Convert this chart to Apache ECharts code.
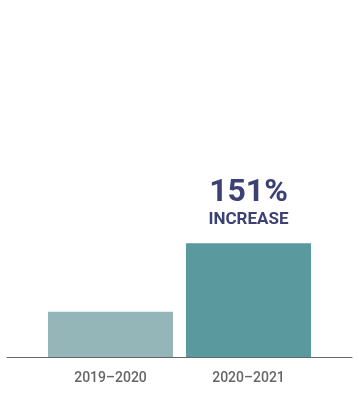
<!DOCTYPE html>
<html>
<head>
<meta charset="utf-8">
<script src="https://cdn.jsdelivr.net/npm/echarts@6/dist/echarts.min.js"></script>
<style>html,body{margin:0;padding:0;background:#fff}#c{width:359px;height:400px}</style>
</head>
<body>
<div id="c"></div>
<script>
const categories = ['2019–2020', '2020–2021'];
const values = [100, 251];
const barColors = ['#94b6b9', '#5a999d'];
const calloutValue = '151%';
const calloutText = 'INCREASE';

const chart = echarts.init(document.getElementById('c'), null, {renderer: 'canvas'});
chart.setOption({
  animation: false,
  backgroundColor: '#fff',
  grid: [
    {left: 41.5, right: 41.5, top: 135, bottom: 43},
    {left: 7, right: 7, top: 135, bottom: 43}
  ],
  xAxis: [
    {
      type: 'category', gridIndex: 0, data: categories,
      axisLine: {show: false}, axisTick: {show: false},
      axisLabel: {color: '#666666', fontFamily: 'Roboto', fontWeight: 500, fontSize: 14, margin: 14}
    },
    {
      type: 'category', gridIndex: 1, data: [''],
      axisLine: {show: true, lineStyle: {color: '#666666', width: 1}},
      axisTick: {show: false}, axisLabel: {show: false}
    }
  ],
  yAxis: [
    {type: 'value', gridIndex: 0, min: 0, max: 490, show: false},
    {type: 'value', gridIndex: 1, min: 0, max: 490, show: false}
  ],
  series: [{
    type: 'bar',
    xAxisIndex: 0, yAxisIndex: 0,
    barWidth: 125,
    data: values.map((v, i) => ({
      value: v,
      itemStyle: {color: barColors[i]},
      label: i === 1 ? {
        show: true, position: 'top', distance: 13.5,
        formatter: '{a|' + calloutValue + '}\n{b|' + calloutText + '}',
        rich: {
          a: {fontFamily: 'Roboto', fontWeight: 'bold', fontSize: 32, color: '#3b4174', lineHeight: 33, align: 'center'},
          b: {fontFamily: 'Roboto', fontWeight: 'bold', fontSize: 17, color: '#3b4174', lineHeight: 20, align: 'center'}
        }
      } : {show: false}
    }))
  }]
});
</script>
</body>
</html>
